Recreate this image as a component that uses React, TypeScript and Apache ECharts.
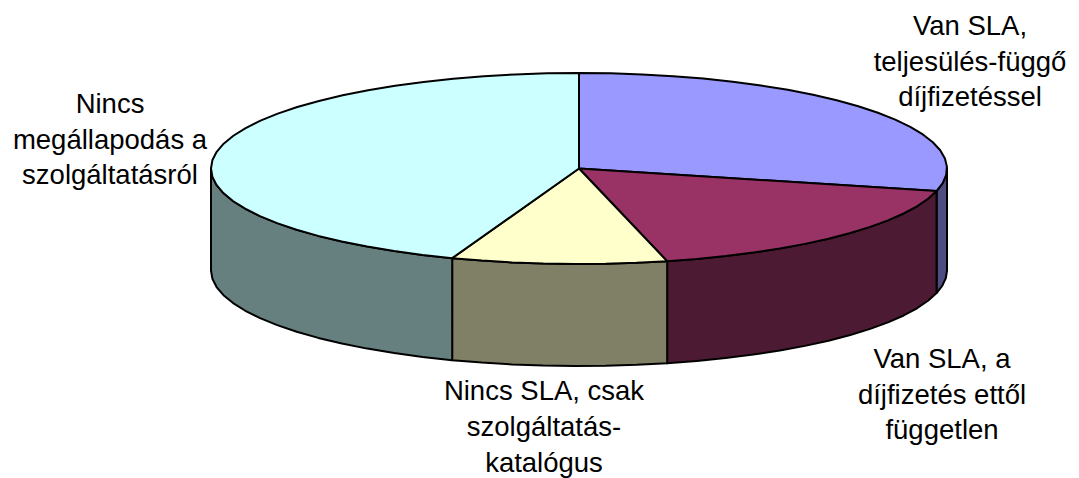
import React, { useEffect, useRef } from "react";
import * as echarts from "echarts";

const categories = [
  "Van SLA,\nteljesülés-függő\ndíjfizetéssel",
  "Van SLA, a\ndíjfizetés ettől\nfüggetlen",
  "Nincs SLA, csak\nszolgáltatás-\nkatalógus",
  "Nincs\nmegállapodás a\nszolgáltatásról",
];
const values = [28.8, 17.35, 9.45, 44.4];
const topColors = ["#9999FF", "#993366", "#FFFFCC", "#CCFFFF"];
const sideColors = ["#4D4D80", "#4D1A33", "#808066", "#668080"];

const CX = 579;
const CY = 168.5;
const RX = 368;
const RY = 95.5;
const DEPTH = 102;
const labelAnchors = [
  [970, 8],
  [942, 341],
  [544, 372],
  [110, 86],
];
const lineHeights = [35.5, 35.5, 36, 35.5];
const FONT = "Liberation Sans";

const total = values.reduce((a, b) => a + b, 0);

function rimPoint(deg: number, dy = 0): number[] {
  const r = (deg * Math.PI) / 180;
  return [CX + RX * Math.sin(r), CY - RY * Math.cos(r) + dy];
}

function arc(from: number, to: number, dy = 0): number[][] {
  const pts: number[][] = [];
  const n = Math.max(1, Math.ceil((to - from) / 5));
  for (let i = 0; i <= n; i++) pts.push(rimPoint(from + ((to - from) * i) / n, dy));
  return pts;
}

export default function App() {
  const ref = useRef<HTMLDivElement>(null);
  useEffect(() => {
    const chart = echarts.init(ref.current!, undefined, { renderer: "svg" });
    const line = { stroke: "#000", lineWidth: 2, lineJoin: "round" as const };
    chart.setOption({
      animation: false,
      backgroundColor: "#fff",
      series: [
        {
          type: "custom",
          coordinateSystem: "none",
          silent: true,
          clip: false,
          data: values.map((v, i) => [i, v]),
          renderItem: (_params: any, api: any) => {
            const i = api.value(0) as number;
            let sum = 0;
            for (let k = 0; k < i; k++) sum += values[k];
            const start = (sum / total) * 360;
            const end = ((sum + (api.value(1) as number)) / total) * 360;
            const children: any[] = [];
            const wallFrom = Math.max(start, 90);
            const wallTo = Math.min(end, 270);
            if (wallTo > wallFrom) {
              const upper = arc(wallFrom, wallTo);
              const lower = arc(wallFrom, wallTo, DEPTH).reverse();
              children.push({
                type: "polygon",
                z2: 1,
                shape: { points: [...upper, ...lower] },
                style: { fill: sideColors[i], ...line },
              });
            }
            children.push({
              type: "polygon",
              z2: 2,
              shape: { points: [[CX, CY], ...arc(start, end)] },
              style: { fill: topColors[i], ...line },
            });
            children.push({
              type: "text",
              z2: 3,
              x: labelAnchors[i][0],
              y: labelAnchors[i][1],
              style: {
                text: categories[i],
                fill: "#000",
                font: `27.5px "${FONT}"`,
                lineHeight: lineHeights[i],
                align: "center",
                verticalAlign: "top",
              },
            });
            return { type: "group", children };
          },
        },
      ],
    });
    return () => chart.dispose();
  }, []);
  return (
    <div
      ref={ref}
      style={{ position: "fixed", left: 0, top: 0, width: 1079, height: 478 }}
    />
  );
}
